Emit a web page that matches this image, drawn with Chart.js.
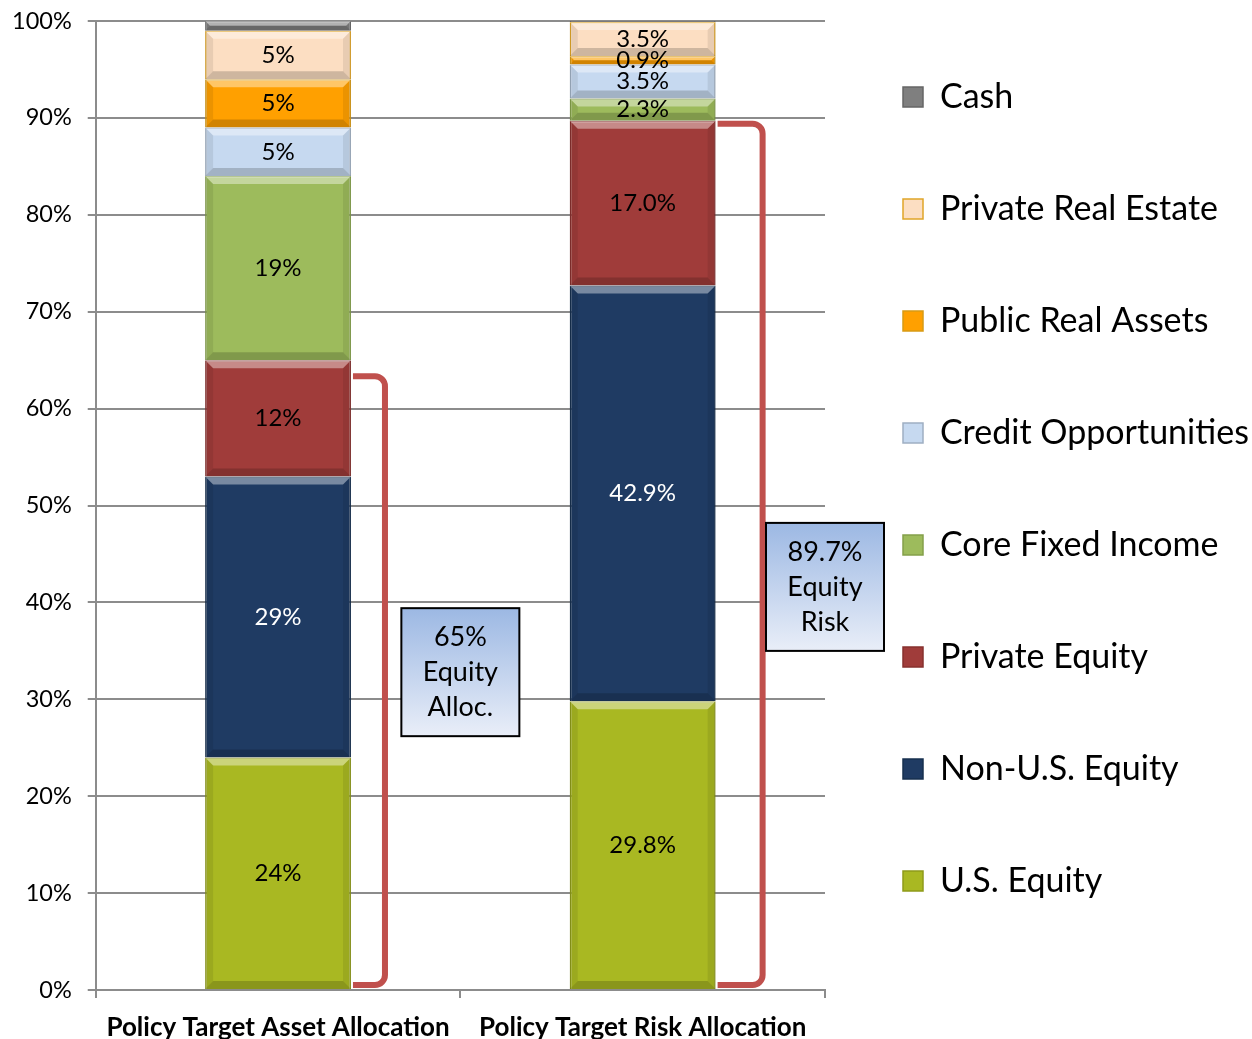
<!DOCTYPE html>
<html>
<head>
<meta charset="utf-8">
<script src="https://cdn.jsdelivr.net/npm/chart.js@4.4.0/dist/chart.umd.min.js"></script>
<style>
    body { margin: 0; background: #fff; }
    #wrap { width: 1252px; height: 1039px; position: relative; }
</style>
</head>
<body>
<div id="wrap"><canvas id="allocation-chart"></canvas></div>
<script>
// データ
const categories = ['Policy Target Asset Allocation', 'Policy Target Risk Allocation'];
const usEquity = [24, 29.8];
const nonUsEquity = [29, 42.9];
const privateEquity = [12, 17.0];
const coreFixedIncome = [19, 2.3];
const creditOpportunities = [5, 3.5];
const publicRealAssets = [5, 0.9];
const privateRealEstate = [5, 3.5];
const cash = [1, 0.1];
const labelDecimals = [0, 1];
const calloutLines = [['65%', 'Equity', 'Alloc.'], ['89.7%', 'Equity', 'Risk']];
const calloutCenters = [32.8, 41.6];

const FONT = 'Lato, "Open Sans", sans-serif';

const series = [
    { label: 'U.S. Equity', data: usEquity, color: '#A9B822', border: '#8E9A1A', text: '#000' },
    { label: 'Non-U.S. Equity', data: nonUsEquity, color: '#1F3B63', border: '#17304F', text: '#fff' },
    { label: 'Private Equity', data: privateEquity, color: '#A03C3A', border: '#86302E', text: '#000' },
    { label: 'Core Fixed Income', data: coreFixedIncome, color: '#9DBB5C', border: '#84A04A', text: '#000' },
    { label: 'Credit Opportunities', data: creditOpportunities, color: '#C6D9F0', border: '#9FAFC2', text: '#000' },
    { label: 'Public Real Assets', data: publicRealAssets, color: '#FFA000', border: '#D89A14', text: '#000' },
    { label: 'Private Real Estate', data: privateRealEstate, color: '#FCDEC2', border: '#E0A528', text: '#000' },
    { label: 'Cash', data: cash, color: '#7F7F7F', border: '#666666', text: '#000', noLabel: true }
];

// ベベル風の陰影
const bevelPlugin = {
    id: 'bevel',
    afterDatasetsDraw(chart) {
        const ctx = chart.ctx;
        chart.data.datasets.forEach((ds, di) => {
            chart.getDatasetMeta(di).data.forEach(el => {
                const left = el.x - el.width / 2;
                const right = el.x + el.width / 2;
                const top = Math.min(el.y, el.base);
                const bottom = Math.max(el.y, el.base);
                const b = Math.min(8, (bottom - top) / 2);
                if (b <= 0.5) return;
                ctx.save();
                ctx.fillStyle = 'rgba(255,255,255,0.4)';
                ctx.beginPath();
                ctx.moveTo(left, top); ctx.lineTo(right, top);
                ctx.lineTo(right - b, top + b); ctx.lineTo(left + b, top + b);
                ctx.closePath(); ctx.fill();
                ctx.fillStyle = 'rgba(0,0,0,0.18)';
                ctx.beginPath();
                ctx.moveTo(left, bottom); ctx.lineTo(right, bottom);
                ctx.lineTo(right - b, bottom - b); ctx.lineTo(left + b, bottom - b);
                ctx.closePath(); ctx.fill();
                ctx.fillStyle = 'rgba(0,0,0,0.08)';
                ctx.beginPath();
                ctx.moveTo(left, top); ctx.lineTo(left + b, top + b);
                ctx.lineTo(left + b, bottom - b); ctx.lineTo(left, bottom);
                ctx.closePath(); ctx.fill();
                ctx.beginPath();
                ctx.moveTo(right, top); ctx.lineTo(right - b, top + b);
                ctx.lineTo(right - b, bottom - b); ctx.lineTo(right, bottom);
                ctx.closePath(); ctx.fill();
                ctx.restore();
            });
        });
    }
};

// セグメント内のラベル
const valueLabelPlugin = {
    id: 'valueLabels',
    afterDatasetsDraw(chart) {
        const ctx = chart.ctx;
        ctx.save();
        ctx.font = `24px ${FONT}`;
        ctx.textAlign = 'center';
        ctx.textBaseline = 'middle';
        chart.data.datasets.forEach((ds, di) => {
            if (series[di].noLabel) return;
            chart.getDatasetMeta(di).data.forEach((el, i) => {
                ctx.fillStyle = series[di].text;
                const v = ds.data[i];
                ctx.fillText(v.toFixed(labelDecimals[i]) + '%', el.x, (el.y + el.base) / 2);
            });
        });
        ctx.restore();
    }
};

// 株式部分のブラケットと注記ボックス
const bracketPlugin = {
    id: 'brackets',
    afterDraw(chart) {
        const ctx = chart.ctx;
        const y = chart.scales.y;
        const xs = chart.scales.x;
        const catWidth = (xs.right - xs.left) / categories.length;
        const depth = [32, 45];
        const topInset = [16, 3];
        chart.getDatasetMeta(0).data.forEach((el, i) => {
            const total = usEquity[i] + nonUsEquity[i] + privateEquity[i];
            const x0 = el.x + el.width / 2 + 2;
            const x1 = x0 + depth[i];
            const yTop = y.getPixelForValue(total) + topInset[i];
            const yBot = y.getPixelForValue(0) - 5;
            ctx.save();
            ctx.strokeStyle = '#C0504D';
            ctx.lineWidth = 6;
            ctx.beginPath();
            ctx.moveTo(x0, yTop);
            ctx.arcTo(x1, yTop, x1, yBot, 10);
            ctx.arcTo(x1, yBot, x0, yBot, 10);
            ctx.lineTo(x0, yBot);
            ctx.stroke();
            ctx.restore();

            // 注記ボックス
            const cx = el.x + catWidth / 2;
            const cy = y.getPixelForValue(calloutCenters[i]);
            const w = 118, h = 128;
            const grad = ctx.createLinearGradient(0, cy - h / 2, 0, cy + h / 2);
            grad.addColorStop(0, '#9CB8E3');
            grad.addColorStop(1, '#E9EEF8');
            ctx.save();
            ctx.fillStyle = grad;
            ctx.fillRect(cx - w / 2, cy - h / 2, w, h);
            ctx.strokeStyle = '#000';
            ctx.lineWidth = 2;
            ctx.strokeRect(cx - w / 2, cy - h / 2, w, h);
            ctx.fillStyle = '#000';
            ctx.font = `27px ${FONT}`;
            ctx.textAlign = 'center';
            ctx.textBaseline = 'middle';
            calloutLines[i].forEach((line, k) => {
                ctx.fillText(line, cx, cy + (k - 1) * 35);
            });
            ctx.restore();
        });
    }
};

// 凡例の幅を固定
const legendWidthPlugin = {
    id: 'legendWidth',
    afterInit(chart) {
        const legend = chart.legend;
        const fit = legend.fit;
        legend.fit = function () {
            fit.call(this);
            this.width = 427;
        };
    }
};

const ctx = document.getElementById('allocation-chart').getContext('2d');
const allocationChart = new Chart(ctx, {
    type: 'bar',
    data: {
        labels: categories,
        datasets: series.map(s => ({
            label: s.label,
            data: s.data,
            backgroundColor: s.color,
            borderColor: s.border,
            borderWidth: 1.5,
            categoryPercentage: 0.4,
            barPercentage: 1.0
        }))
    },
    options: {
        responsive: true,
        maintainAspectRatio: false,
        animation: false,
        layout: {
            padding: { top: 2, left: 0, bottom: 0, right: 0 }
        },
        scales: {
            x: {
                stacked: true,
                afterFit(scale) {
                    scale.height = 49;
                },
                grid: {
                    drawOnChartArea: false,
                    tickLength: 8,
                    color: '#8C8C8C',
                    lineWidth: 2
                },
                border: { color: '#8C8C8C', width: 2 },
                ticks: {
                    color: '#000',
                    maxRotation: 0,
                    autoSkip: false,
                    padding: 14,
                    font: { family: FONT, size: 26, weight: 'bold' }
                }
            },
            y: {
                stacked: true,
                min: 0,
                max: 100,
                afterFit(scale) {
                    scale.width -= 4;
                    scale.paddingTop = 21;
                    scale.paddingBottom = 0;
                },
                grid: {
                    color: '#8C8C8C',
                    lineWidth: 2,
                    tickLength: 8
                },
                border: { color: '#8C8C8C', width: 2 },
                ticks: {
                    stepSize: 10,
                    color: '#000',
                    padding: 16,
                    font: { family: FONT, size: 23.5 },
                    callback: v => v + '%'
                }
            }
        },
        plugins: {
            legend: {
                position: 'right',
                align: 'start',
                reverse: true,
                labels: {
                    boxWidth: 20,
                    boxHeight: 20,
                    padding: 78,
                    color: '#000',
                    font: { family: FONT, size: 34 }
                }
            },
            tooltip: { enabled: false }
        }
    },
    plugins: [legendWidthPlugin, bevelPlugin, valueLabelPlugin, bracketPlugin]
});
</script>
</body>
</html>
